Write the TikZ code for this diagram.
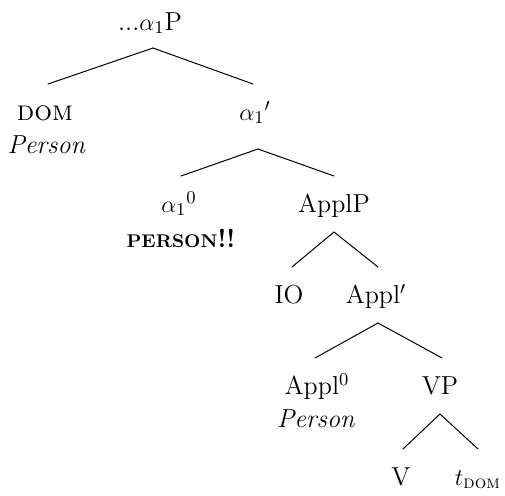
\documentclass[tikz,border=0pt]{standalone}
\usepackage{amsmath}
\begin{document}
\begin{tikzpicture}[x=0.5pt,y=-0.5pt,
  font=\fontsize{13}{15.5}\selectfont,
  cat/.style={anchor=base, inner sep=0pt, outer sep=0pt, text height=18pt, text depth=10pt},
  gloss/.style={anchor=base, inner sep=0pt, outer sep=0pt},
  branch/.style={line width=0.5pt, line cap=round}]
\useasboundingbox (0,0) rectangle (505,495);

% category labels
\node[cat] (top) at (150,30) {...$\alpha_1$P};
\node[cat] (dom) at (45,120) {{\fontsize{14}{15}\selectfont\textsc{dom}}};
\node[cat] (a1bar) at (255,120) {${\alpha_1}'$};
\node[cat] (a1zero) at (179,212) {${\alpha_1}^0$};
\node[cat] (applp) at (334,212) {ApplP};
\node[cat] (io) at (289,303) {IO};
\node[cat] (applbar) at (376,303) {Appl$'$};
\node[cat] (applzero) at (317,394) {Appl$^0$};
\node[cat] (vp) at (440,394) {VP};
\node[cat] (v) at (401,485) {V};
\node[cat] (tdom) at (478,485) {$t_{\textsc{dom}}$};

% glosses under the heads
\node[gloss] (domgl) at (46.5,153) {\textit{Person}};
\node[gloss] (persgl) at (181,247) {\textbf{\fontsize{9.2}{10}\selectfont PERSON}\textbf{!!}};
\node[gloss] (applgl) at (316,427) {\textit{Person}};

% branches
\draw[branch] ([xshift=1.5pt,yshift=1pt]top.south) -- ([xshift=1.5pt]dom.north);
\draw[branch] ([xshift=1.5pt,yshift=1pt]top.south) -- ([xshift=-1pt]a1bar.north);
\draw[branch] ([xshift=1.5pt,yshift=-4.5pt]a1bar.south) -- ([xshift=1pt]a1zero.north);
\draw[branch] ([xshift=1.5pt,yshift=-4.5pt]a1bar.south) -- (applp.north);
\draw[branch] (applp.south) -- ([xshift=1.5pt]io.north);
\draw[branch] (applp.south) -- ([xshift=1pt]applbar.north);
\draw[branch] ([xshift=1pt]applbar.south) -- ([xshift=-1pt]applzero.north);
\draw[branch] ([xshift=1pt]applbar.south) -- ([xshift=1pt]vp.north);
\draw[branch] (vp.south) -- ([xshift=1pt]v.north);
\draw[branch] (vp.south) -- (tdom.north);
\end{tikzpicture}
\end{document}
